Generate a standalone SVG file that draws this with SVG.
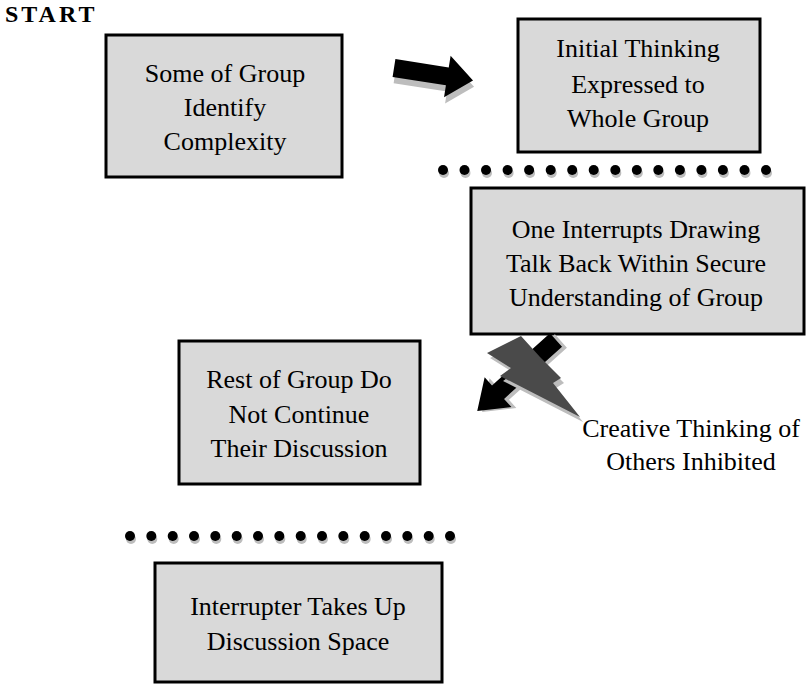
<svg xmlns="http://www.w3.org/2000/svg" width="806" height="684" viewBox="0 0 806 684">
<style>
.box{fill:#d9d9d9;stroke:#000;stroke-width:3}
.t{font-family:'Liberation Serif',serif;font-size:26px;fill:#000;text-anchor:middle}
.dot{fill:#000}
.dsh{fill:#bdbdbd}
.sh{fill:#bdbdbd}
</style>
<defs>
<g id="dp"><circle class="dsh" cx="1" cy="3" r="5"/><circle class="dot" cx="0" cy="0" r="5"/></g>
</defs>
<rect width="806" height="684" fill="#fff"/>
<text x="5" y="22" font-family="'Liberation Serif', serif" font-size="24" font-weight="bold" letter-spacing="3">START</text>

<g id="node1">
<rect class="box" x="106" y="35" width="236" height="142"/>
<text class="t" x="225" y="82">Some of Group</text>
<text class="t" x="225" y="116">Identify</text>
<text class="t" x="225" y="150">Complexity</text>
</g>
<g id="node2">
<rect class="box" x="518" y="19" width="242" height="133"/>
<text class="t" x="638" y="57">Initial Thinking</text>
<text class="t" x="638" y="93">Expressed to</text>
<text class="t" x="638" y="127">Whole Group</text>
</g>
<g id="node3">
<rect class="box" x="471" y="188" width="333" height="146"/>
<text class="t" x="636" y="238">One Interrupts Drawing</text>
<text class="t" x="636" y="272">Talk Back Within Secure</text>
<text class="t" x="636" y="306">Understanding of Group</text>
</g>
<g id="node4">
<rect class="box" x="179" y="341" width="241" height="143"/>
<text class="t" x="299" y="388">Rest of Group Do</text>
<text class="t" x="299" y="423">Not Continue</text>
<text class="t" x="299" y="457">Their Discussion</text>
</g>
<g id="node5">
<rect class="box" x="155" y="563" width="287" height="119"/>
<text class="t" x="298" y="615">Interrupter Takes Up</text>
<text class="t" x="298" y="650">Discussion Space</text>
</g>
<g id="label-creative">
<text class="t" x="691" y="437">Creative Thinking of</text>
<text class="t" x="691" y="470">Others Inhibited</text>
</g>

<g id="separators">
<g id="dots1">
<use href="#dp" x="443" y="170"/><use href="#dp" x="464.5" y="170"/><use href="#dp" x="486" y="170"/><use href="#dp" x="507.6" y="170"/>
<use href="#dp" x="529.1" y="170"/><use href="#dp" x="550.7" y="170"/><use href="#dp" x="572.2" y="170"/><use href="#dp" x="593.7" y="170"/>
<use href="#dp" x="615.3" y="170"/><use href="#dp" x="636.8" y="170"/><use href="#dp" x="658.3" y="170"/><use href="#dp" x="679.9" y="170"/>
<use href="#dp" x="701.4" y="170"/><use href="#dp" x="722.9" y="170"/><use href="#dp" x="744.5" y="170"/><use href="#dp" x="766" y="170"/>
</g>
<g id="dots2">
<use href="#dp" x="130" y="536"/><use href="#dp" x="151.3" y="536"/><use href="#dp" x="172.7" y="536"/><use href="#dp" x="194" y="536"/>
<use href="#dp" x="215.3" y="536"/><use href="#dp" x="236.7" y="536"/><use href="#dp" x="258" y="536"/><use href="#dp" x="279.3" y="536"/>
<use href="#dp" x="300.7" y="536"/><use href="#dp" x="322" y="536"/><use href="#dp" x="343.3" y="536"/><use href="#dp" x="364.7" y="536"/>
<use href="#dp" x="386" y="536"/><use href="#dp" x="407.3" y="536"/><use href="#dp" x="428.7" y="536"/><use href="#dp" x="450" y="536"/>
</g>
</g>

<g id="connectors">
<g id="arrow-right" transform="translate(394,68) rotate(9)">
<polygon class="sh" transform="translate(2,6)" points="0,-9 54,-9 54,-21 80,0 54,21 54,9 0,9"/>
<polygon fill="#000" points="0,-9 54,-9 54,-21 80,0 54,21 54,9 0,9"/>
</g>
<g id="arrow-downleft" transform="translate(556,340) rotate(138)">
<polygon class="sh" transform="translate(-3,-4)" points="0,-9 78,-9 78,-20 106,0 78,20 78,9 0,9"/>
<polygon fill="#000" points="0,-9 78,-9 78,-20 106,0 78,20 78,9 0,9"/>
</g>
<g id="bolt">
<polygon class="sh" transform="translate(3,5)" points="521,336 487,353 511,368 500,376 580,417 553,383 561,378 540,357"/>
<polygon fill="#4a4a4a" points="521,336 487,353 511,368 500,376 580,417 553,383 561,378 540,357"/>
</g>
</g>
</svg>
